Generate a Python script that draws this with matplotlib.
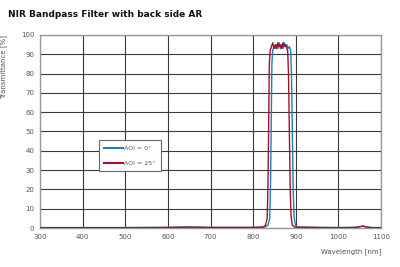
import matplotlib
matplotlib.use("Agg")
import matplotlib.pyplot as plt

# AOI = 0 deg
wl_0 = [300, 400, 500, 600, 650, 700, 800, 828, 835, 839, 841, 842.5, 844, 846, 849,
        852, 855, 858, 861, 864, 867, 870, 873, 876, 879, 882, 885, 888, 890, 892,
        894, 896, 899, 903, 950, 1000, 1040, 1050, 1058, 1066, 1080, 1100]
tr_0 = [0.2, 0.2, 0.2, 0.3, 0.5, 0.3, 0.3, 0.5, 1.5, 5, 25, 55, 85, 92, 94,
        93, 95, 93, 96, 93, 95, 93, 96, 94, 95, 93, 94, 92, 80, 50,
        20, 6, 1.5, 0.5, 0.3, 0.2, 0.3, 0.7, 1.0, 0.5, 0.2, 0.2]

# AOI = 25 deg
wl_25 = [300, 400, 500, 600, 650, 700, 800, 823, 829, 833, 835, 836.5, 838, 840, 843,
         846, 849, 852, 855, 858, 861, 864, 867, 870, 873, 876, 879, 881, 883, 885,
         887, 889, 892, 897, 950, 1000, 1040, 1050, 1058, 1066, 1080, 1100]
tr_25 = [0.2, 0.2, 0.2, 0.3, 0.5, 0.3, 0.3, 0.5, 1.5, 5, 25, 55, 85, 92, 94,
         96, 93, 95, 93, 96, 94, 95, 93, 96, 94, 95, 93, 92, 80, 50,
         20, 6, 1.5, 0.5, 0.3, 0.2, 0.3, 0.7, 1.0, 0.5, 0.2, 0.2]

X_TICKS = [300, 400, 500, 600, 700, 800, 900, 1000, 1100]
Y_TICKS = [0, 10, 20, 30, 40, 50, 60, 70, 80, 90, 100]

BLUE = "#1f7fb0"
RED = "#a3122b"
GRID = "#3a3a3a"
LABEL = "#555555"

fig = plt.figure(figsize=(4.0, 2.67), dpi=100)
ax = fig.add_axes([0.1, 0.146, 0.8525, 0.723])

ax.plot(wl_0, tr_0, color=BLUE, linewidth=1.0, label="AOI = 0°", zorder=3)
ax.plot(wl_25, tr_25, color=RED, linewidth=1.0, label="AOI = 25°", zorder=3)

ax.set_xlim(300, 1100)
ax.set_ylim(0, 100)
ax.set_xticks(X_TICKS)
ax.set_yticks(Y_TICKS)
ax.grid(True, color=GRID, linewidth=0.8)
ax.tick_params(axis="both", length=0, labelsize=5, labelcolor=LABEL, pad=4)
for s in ax.spines.values():
    s.set_color("#999999")
    s.set_linewidth(1.0)

ax.set_xlabel("Wavelength [nm]", fontsize=5, color=LABEL, loc="right", labelpad=6)
ax.set_ylabel("Transmittance [%]", fontsize=5, color=LABEL, loc="top", labelpad=10)

leg = ax.legend(loc="upper left", bbox_to_anchor=(0.165, 0.47), fontsize=4.5,
                frameon=True, fancybox=False, edgecolor="#666666",
                handlelength=3.0, labelspacing=1.6, borderpad=0.8,
                handletextpad=0.2)
leg.get_frame().set_linewidth(0.8)
leg.get_frame().set_alpha(1.0)
for t in leg.get_texts():
    t.set_color(LABEL)
for h in leg.get_lines():
    h.set_linewidth(1.5)

fig.text(0.02, 0.945, "NIR Bandpass Filter with back side AR", fontsize=6.5,
         fontweight="bold", color="#111111", ha="left", va="center")

fig.savefig("out.png", dpi=100)
